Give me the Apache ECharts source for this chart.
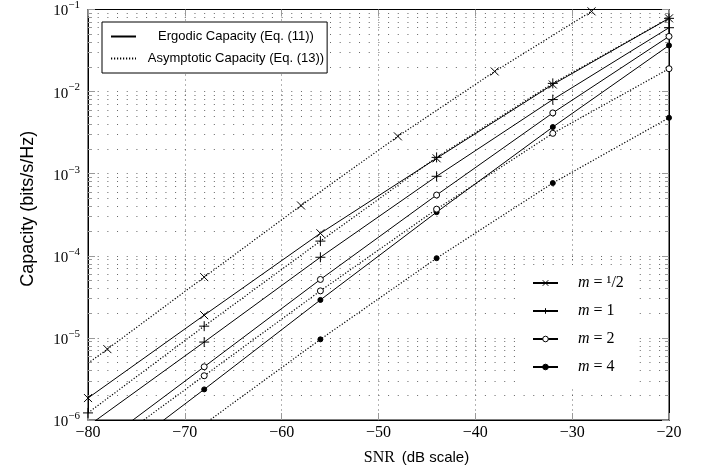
<!DOCTYPE html>
<html>
<head>
<meta charset="utf-8">
<script src="https://cdn.jsdelivr.net/npm/echarts@6/dist/echarts.min.js"></script>
<style>
html, body { margin: 0; padding: 0; background: #fff; }
#main { width: 705px; height: 476px; }
</style>
</head>
<body>
<div id="main"></div>
<script>
// SNR (dB) where the curves carry markers
var snrMarks = [-80, -68, -56, -44, -32, -20];
var snrAsymHalf = [-80, -78, -68, -58, -48, -38, -28];

// Ergodic capacity (Eq. (11)), bits/s/Hz
var ergHalf = [1.85e-6, 1.89e-5, 1.88e-4, 1.54e-3, 1.22e-2, 7.8e-2];
var ergOne = [8.45e-7, 8.9e-6, 9.6e-5, 9.3e-4, 8.0e-3, 6.0e-2];
var ergTwo = [3.9e-7, 4.45e-6, 5.15e-5, 5.5e-4, 5.5e-3, 4.7e-2];
var ergFour = [2.0e-7, 2.36e-6, 2.9e-5, 3.4e-4, 3.7e-3, 3.65e-2];

// Asymptotic capacity (Eq. (13)), bits/s/Hz
var asymHalf = [4.9e-6, 7.3e-6, 5.5e-5, 4.1e-4, 2.85e-3, 1.76e-2, 9.5e-2];
var asymOne = [1.22e-6, 1.39e-5, 1.51e-4, 1.58e-3, 1.26e-2, 7.8e-2];
var asymTwo = [3.2e-7, 3.46e-6, 3.74e-5, 3.7e-4, 3.1e-3, 1.9e-2];
var asymFour = [9e-8, 8.9e-7, 9.6e-6, 9.35e-5, 7.7e-4, 4.8e-3];

var mNames = ['m = 1/2', 'm = 1', 'm = 2', 'm = 4'];
var typeNames = ['Ergodic Capacity (Eq. (11))', 'Asymptotic Capacity (Eq. (13))'];

// marker per m
var symCross = 'path://M0,0L10,10M10,0L0,10';
var symPlus = 'path://M5,0L5,10M0,5L10,5';
var symRing = 'path://M5,0A5,5 0 1 1 5,10A5,5 0 1 1 5,0Z';
var markers = [
    { symbol: symCross, size: 8, fill: '#000' },
    { symbol: symPlus, size: 10, fill: '#000' },
    { symbol: symRing, size: 6, fill: '#fff' },
    { symbol: 'circle', size: 5, fill: '#000' }
];

var curves = [
    { m: 0, x: snrMarks, y: ergHalf, dotted: false },
    { m: 1, x: snrMarks, y: ergOne, dotted: false },
    { m: 2, x: snrMarks, y: ergTwo, dotted: false },
    { m: 3, x: snrMarks, y: ergFour, dotted: false },
    { m: 0, x: snrAsymHalf, y: asymHalf, dotted: true, noMark: [0] },
    { m: 1, x: snrMarks, y: asymOne, dotted: true },
    { m: 2, x: snrMarks, y: asymTwo, dotted: true },
    { m: 3, x: snrMarks, y: asymFour, dotted: true }
];

var dotDash = [1.2, 1.8];
var series = [];
for (var i = 0; i < curves.length; i++) {
    var c = curves[i];
    var mk = markers[c.m];
    var pts = [];
    for (var j = 0; j < c.x.length; j++) {
        var p = { value: [c.x[j], c.y[j]] };
        if (c.noMark && c.noMark.indexOf(j) >= 0) p.symbol = 'none';
        pts.push(p);
    }
    series.push({
        name: mNames[c.m],
        type: 'line',
        data: pts,
        symbol: mk.symbol,
        symbolSize: mk.size,
        showAllSymbol: true,
        lineStyle: { color: '#000', width: c.dotted ? 1.2 : 1, type: c.dotted ? dotDash : 'solid' },
        itemStyle: { color: mk.fill, borderColor: '#000', borderWidth: 1 },
        emphasis: { disabled: true },
        z: 3
    });
}
// legend-only series for the line styles
series.push({
    name: typeNames[0], type: 'line', data: [], symbol: 'none',
    lineStyle: { color: '#000', width: 1.6, type: 'solid' }, itemStyle: { color: '#000' }
});
series.push({
    name: typeNames[1], type: 'line', data: [], symbol: 'none',
    lineStyle: { color: '#000', width: 1.2, type: dotDash }, itemStyle: { color: '#000' }
});

var serif = 'Liberation Serif';
var sans = 'Liberation Sans';

var option = {
    animation: false,
    backgroundColor: '#fff',
    grid: {
        left: 88, right: 36, top: 9, bottom: 56,
        show: true, borderColor: '#000', borderWidth: 1
    },
    legend: [{
        data: typeNames,
        orient: 'vertical',
        left: 102, top: 22,
        padding: [8, 3, 8, 8],
        itemWidth: 25, itemHeight: 14, itemGap: 9,
        backgroundColor: '#fff',
        borderColor: '#000', borderWidth: 1,
        borderRadius: 0,
        selectedMode: false,
        itemStyle: { opacity: 0 },
        formatter: function (n) { return '{c|' + n + '}'; },
        textStyle: {
            color: '#000', fontFamily: sans, fontSize: 13,
            rich: { c: { width: 190, align: 'center', fontFamily: sans, fontSize: 13, color: '#000' } }
        }
    }, {
        data: mNames,
        orient: 'vertical',
        left: 522, top: 265,
        padding: [9, 10, 10, 10],
        itemWidth: 25, itemHeight: 7, itemGap: 10,
        backgroundColor: '#fff',
        borderWidth: 0,
        selectedMode: false,
        itemStyle: { borderColor: '#000', borderWidth: 1 },
        formatter: function (n) {
            return '{i|m} = ' + n.replace('m = ', '').replace('1/2', '\u00b9/2');
        },
        textStyle: {
            color: '#000', fontFamily: serif, fontSize: 16, lineHeight: 18,
            padding: [0, 0, 0, 15],
            rich: { i: { fontStyle: 'italic', fontFamily: serif, fontSize: 16, color: '#000' } }
        }
    }],
    xAxis: [{
        type: 'value', min: -80, max: -20, interval: 10, position: 'bottom',
        axisLine: { lineStyle: { color: '#000', width: 1 } },
        axisTick: { inside: true, length: 7, lineStyle: { color: '#999' } },
        axisLabel: {
            color: '#000', fontFamily: serif, fontSize: 16, margin: 5,
            formatter: function (v) { return String(v).replace('-', '\u2212'); }
        },
        splitLine: { show: true, lineStyle: { color: '#666', type: [1, 4], width: 1 } },
        name: '{s|SNR}  {d|(dB scale)}',
        nameLocation: 'middle', nameGap: 30,
        nameTextStyle: {
            padding: [0, 0, 0, 76],
            rich: {
                s: { fontFamily: serif, fontSize: 16, color: '#000' },
                d: { fontFamily: sans, fontSize: 15, color: '#000' }
            }
        }
    }, {
        type: 'value', min: -80, max: -20, interval: 10, position: 'top',
        axisLine: { lineStyle: { color: '#000', width: 1 } },
        axisTick: { inside: true, length: 7, lineStyle: { color: '#999' } },
        axisLabel: { show: false },
        splitLine: { show: false }
    }],
    yAxis: [{
        type: 'log', logBase: 10, min: 1e-6, max: 1e-1, position: 'left',
        axisLine: { lineStyle: { color: '#000', width: 1 } },
        axisTick: { inside: true, length: 7, lineStyle: { color: '#999' } },
        minorTick: { show: true, splitNumber: 9, length: 4, lineStyle: { color: '#999' } },
        axisLabel: {
            color: '#000', fontFamily: serif, fontSize: 15, margin: 8,
            formatter: function (v) {
                var e = Math.round(Math.log10(v));
                return '{b|10}{sup|\u2212' + (-e) + '}';
            },
            rich: {
                b: { fontFamily: serif, fontSize: 15, color: '#000', verticalAlign: 'bottom' },
                sup: { fontFamily: serif, fontSize: 11, color: '#000', verticalAlign: 'bottom', padding: [0, 0, 8, 0] }
            }
        },
        splitLine: { show: true, lineStyle: { color: '#666', type: [1, 8.68], width: 1 } },
        minorSplitLine: { show: true, lineStyle: { color: '#666', type: [1, 8.68], width: 1 } },
        name: 'Capacity (bits/s/Hz)',
        nameLocation: 'middle', nameGap: 51, nameRotate: 90,
        nameTextStyle: { fontFamily: sans, fontSize: 18, color: '#000', padding: [0, 0, 0, 12] }
    }, {
        type: 'log', logBase: 10, min: 1e-6, max: 1e-1, position: 'right',
        axisLine: { lineStyle: { color: '#000', width: 1 } },
        axisTick: { inside: true, length: 7, lineStyle: { color: '#999' } },
        minorTick: { show: true, splitNumber: 9, length: 4, lineStyle: { color: '#999' } },
        axisLabel: { show: false },
        splitLine: { show: false }
    }],
    series: series
};

var chart = echarts.init(document.getElementById('main'), null, { renderer: 'canvas' });
chart.setOption(option);
</script>
</body>
</html>
